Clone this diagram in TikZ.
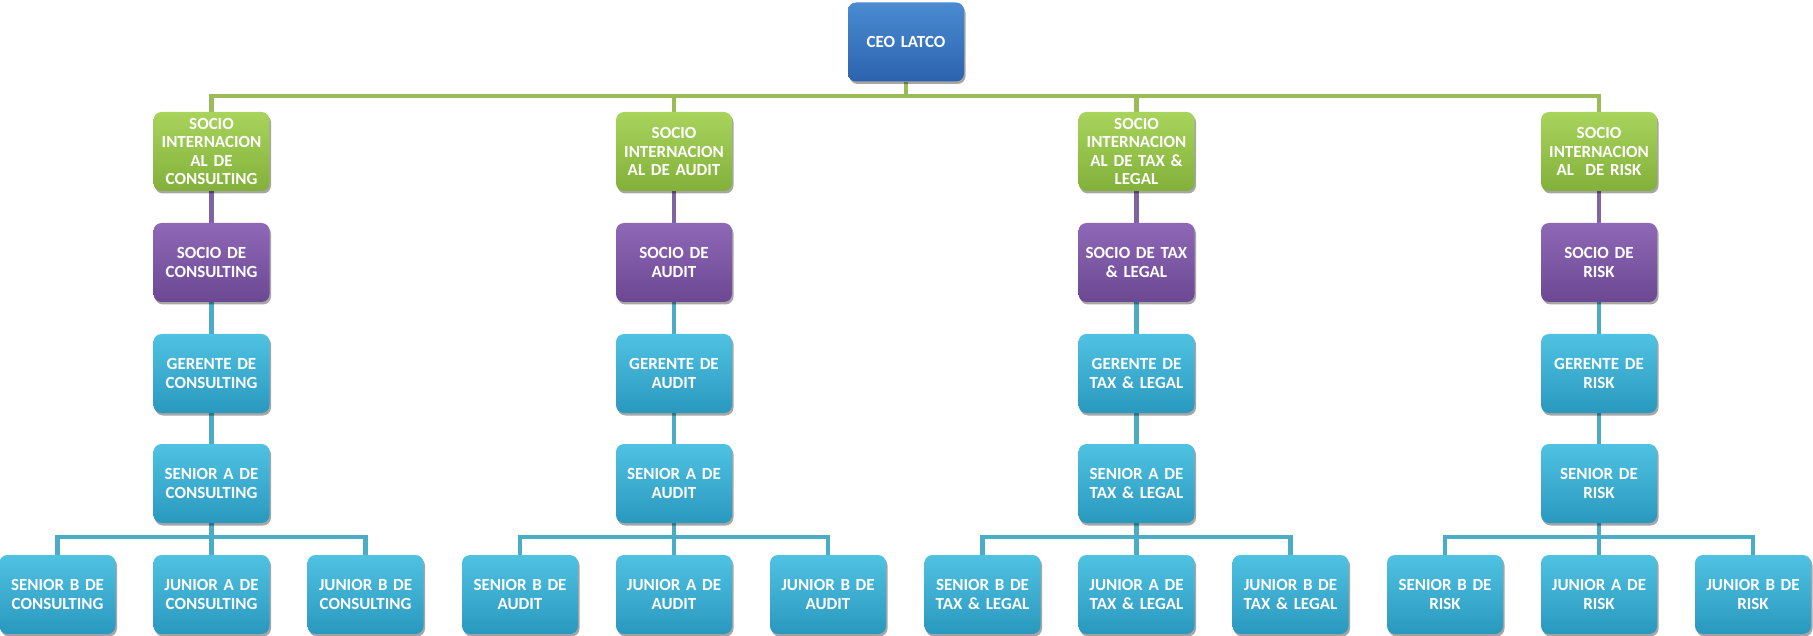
\documentclass[tikz,border=0pt]{standalone}
\usepackage{fontspec}
\setmainfont{Carlito}
\usetikzlibrary{shadows,backgrounds}
\definecolor{ceoT}{HTML}{4A8BD2}
\definecolor{ceoB}{HTML}{2C63AE}
\definecolor{grnT}{HTML}{A8D45C}
\definecolor{grnB}{HTML}{82B03A}
\definecolor{purT}{HTML}{8E68B6}
\definecolor{purB}{HTML}{6C4893}
\definecolor{aqT}{HTML}{4FC2E2}
\definecolor{aqB}{HTML}{2A98BE}
\definecolor{gline}{HTML}{9BBB59}
\definecolor{pline}{HTML}{8064A2}
\definecolor{aline}{HTML}{4BACC6}
\tikzset{
  box/.style={rounded corners=8pt, minimum width=116pt, minimum height=79pt,
    text width=112pt, align=center, inner sep=1pt, text=white,
    font=\fontsize{17}{18.5}\selectfont\bfseries,
    drop shadow={shadow xshift=1.5pt, shadow yshift=-2.5pt, opacity=0.35, fill=black}},
  ceobox/.style={box, top color=ceoT, bottom color=ceoB},
  grnbox/.style={box, top color=grnT, bottom color=grnB},
  purbox/.style={box, top color=purT, bottom color=purB},
  aqbox/.style={box, top color=aqT, bottom color=aqB},
  gconn/.style={draw=gline, line width=4.5pt},
  pconn/.style={draw=pline, line width=4.5pt},
  aconn/.style={draw=aline, line width=4.5pt},
}
\begin{document}
\begin{tikzpicture}[x=1pt,y=-1pt]
\useasboundingbox (0,0) rectangle (1813,636);
% CEO
\node[ceobox] (ceo) at (906,42) {CEO LATCO};
% column 1
\node[grnbox] (g1) at (211.5,151.5) {SOCIO\\INTERNACION\\AL DE\\CONSULTING};
\node[purbox] (p1) at (211.5,262.5) {SOCIO DE\\CONSULTING};
\node[aqbox] (m1) at (211.5,373.5) {GERENTE DE\\CONSULTING};
\node[aqbox] (s1) at (211.5,483.5) {SENIOR A DE\\CONSULTING};
\node[aqbox] (b1) at (57.5,594.5) {SENIOR B DE\\CONSULTING};
\node[aqbox] (ja1) at (211.5,594.5) {JUNIOR A DE\\CONSULTING};
\node[aqbox] (jb1) at (365.5,594.5) {JUNIOR B DE\\CONSULTING};
% column 2
\node[grnbox] (g2) at (674,151.5) {SOCIO\\INTERNACION\\AL DE AUDIT};
\node[purbox] (p2) at (674,262.5) {SOCIO DE\\AUDIT};
\node[aqbox] (m2) at (674,373.5) {GERENTE DE\\AUDIT};
\node[aqbox] (s2) at (674,483.5) {SENIOR A DE\\AUDIT};
\node[aqbox] (b2) at (520,594.5) {SENIOR B DE\\AUDIT};
\node[aqbox] (ja2) at (674,594.5) {JUNIOR A DE\\AUDIT};
\node[aqbox] (jb2) at (828,594.5) {JUNIOR B DE\\AUDIT};
% column 3
\node[grnbox] (g3) at (1136.5,151.5) {SOCIO\\INTERNACION\\AL DE TAX \&\\LEGAL};
\node[purbox] (p3) at (1136.5,262.5) {SOCIO DE TAX\\\& LEGAL};
\node[aqbox] (m3) at (1136.5,373.5) {GERENTE DE\\TAX \& LEGAL};
\node[aqbox] (s3) at (1136.5,483.5) {SENIOR A DE\\TAX \& LEGAL};
\node[aqbox] (b3) at (982.5,594.5) {SENIOR B DE\\TAX \& LEGAL};
\node[aqbox] (ja3) at (1136.5,594.5) {JUNIOR A DE\\TAX \& LEGAL};
\node[aqbox] (jb3) at (1290.5,594.5) {JUNIOR B DE\\TAX \& LEGAL};
% column 4
\node[grnbox] (g4) at (1599,151.5) {SOCIO\\INTERNACION\\AL\ \ DE RISK};
\node[purbox] (p4) at (1599,262.5) {SOCIO DE\\RISK};
\node[aqbox] (m4) at (1599,373.5) {GERENTE DE\\RISK};
\node[aqbox] (s4) at (1599,483.5) {SENIOR DE\\RISK};
\node[aqbox] (b4) at (1445,594.5) {SENIOR B DE\\RISK};
\node[aqbox] (ja4) at (1599,594.5) {JUNIOR A DE\\RISK};
\node[aqbox] (jb4) at (1753,594.5) {JUNIOR B DE\\RISK};
\coordinate (topbus) at (0,96);
\coordinate (lowbus) at (0,537);
\begin{scope}[on background layer]
  \foreach \i in {1,2,3,4}{
    \draw[gconn] (ceo.south) -- (ceo.south |- topbus) -| (g\i.north);
    \draw[pconn] (g\i.south) -- (p\i.north);
    \draw[aconn] (p\i.south) -- (m\i.north);
    \draw[aconn] (m\i.south) -- (s\i.north);
    \draw[aconn] (s\i.south) -- (s\i.south |- lowbus) -| (b\i.north);
    \draw[aconn] (s\i.south) -- (s\i.south |- lowbus) -| (jb\i.north);
    \draw[aconn] (s\i.south) -- (ja\i.north);
  }
\end{scope}
\end{tikzpicture}
\end{document}
